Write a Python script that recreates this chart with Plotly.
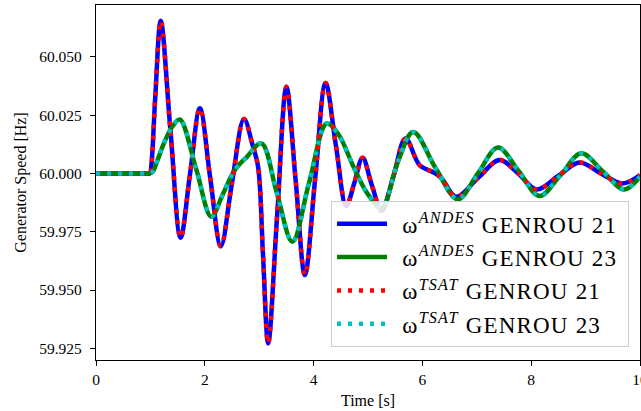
import plotly.graph_objects as go

# ---- data ----
t_andes_21 = [0.0, 0.5, 0.9, 0.99, 1.02, 1.09, 1.19, 1.37, 1.555, 1.73, 1.91, 2.10, 2.295, 2.50, 2.72, 2.88, 2.98,
              3.07, 3.165, 3.33, 3.50, 3.67, 3.84, 4.03, 4.22, 4.41, 4.60, 4.75, 4.90, 5.07, 5.25,
              5.47, 5.69, 5.95, 6.20, 6.35, 6.62, 7.02, 7.42, 7.76, 8.10, 8.50, 8.89, 9.28, 9.68, 10.0]
w_andes_21 = [60.0, 60.0, 60.0, 60.0, 60.004, 60.033, 60.0654, 60.018, 59.9724, 60.000, 60.0279, 59.998, 59.9688, 59.996,
              60.0233, 60.012, 60.0028, 59.965, 59.9271, 59.982, 60.0371, 59.997, 59.9564, 59.998, 60.0388,
              60.012, 59.986, 59.996, 60.0067, 59.995, 59.984, 59.999, 60.015, 60.0035, 60.0005, 59.998,
              59.990, 59.998, 60.0057, 60.000, 59.9931, 59.999, 60.0047, 60.000, 59.9957, 59.9993]

t_andes_23 = [0.0, 0.5, 0.9, 0.99, 1.05, 1.12, 1.25, 1.40, 1.54, 1.84, 2.12, 2.33, 2.55, 2.77, 3.04, 3.32, 3.61,
              3.92, 4.24, 4.45, 4.75, 5.00, 5.25, 5.55, 5.83, 6.25, 6.65, 7.02, 7.39, 7.77, 8.15,
              8.53, 8.92, 9.31, 9.71, 10.0]
w_andes_23 = [60.0, 60.0, 60.0, 60.0, 60.001, 60.005, 60.013, 60.020, 60.0231, 60.002, 59.9814, 59.991, 60.0014, 60.007,
              60.0129, 59.992, 59.9707, 59.9963, 60.0214, 60.017, 60.002, 59.991, 59.9852, 60.005, 60.0178,
              60.002, 59.9889, 60.000, 60.0111, 60.001, 59.9903, 59.999, 60.0086, 60.001, 59.9931, 59.9986]

t_tsat_21 = list(t_andes_21)
w_tsat_21 = list(w_andes_21)
t_tsat_23 = list(t_andes_23)
w_tsat_23 = list(w_andes_23)

x_ticks = [0, 2, 4, 6, 8, 10]
y_ticks = [59.925, 59.950, 59.975, 60.000, 60.025, 60.050]

label_texts = ["ω<sup><i>ANDES</i></sup> GENROU 21", "ω<sup><i>ANDES</i></sup> GENROU 23",
               "ω<sup><i>TSAT</i></sup> GENROU 21", "ω<sup><i>TSAT</i></sup> GENROU 23"]
names = ['&nbsp;\u2009<span style="letter-spacing:1.2px">' + s + '</span>&nbsp;' for s in label_texts]

FONT = "Liberation Serif"

fig = go.Figure()
series = [
    (t_andes_21, w_andes_21, "#0000ff", "solid"),
    (t_andes_23, w_andes_23, "#008000", "solid"),
    (t_tsat_21, w_tsat_21, "#ff0000", "4px,7px"),
    (t_tsat_23, w_tsat_23, "#00bfbf", "4px,7px"),
]
for i, (tx, wy, col, dash) in enumerate(series):
    fig.add_trace(go.Scatter(
        x=tx, y=wy, mode="lines", name=names[i], legendgroup=str(i),
        line=dict(color=col, width=4.5, dash=dash, shape="spline", smoothing=1.0),
    ))

fig.update_layout(
    width=641, height=411,
    margin=dict(l=96, r=1, t=5, b=51),
    paper_bgcolor="white", plot_bgcolor="white",
    font=dict(family=FONT, size=15.5, color="black"),
    showlegend=True,
    legend=dict(
        x=0.9798, y=0.036, xanchor="right", yanchor="bottom",
        bgcolor="rgba(255,255,255,0.85)", bordercolor="#cccccc", borderwidth=1,
        font=dict(family=FONT, size=23, color="black"),
        tracegroupgap=0.5, itemwidth=50,
    ),
)
axis_common = dict(
    showgrid=False, zeroline=False, showline=True, linecolor="black", linewidth=1.2,
    mirror=True, ticks="outside", ticklen=5, tickwidth=1, tickcolor="black",
    tickfont=dict(family=FONT, size=15.5, color="black"), automargin=False,
)
fig.update_xaxes(
    range=[0, 10], tickvals=x_ticks, ticktext=[str(v) for v in x_ticks],
    ticklabeloverflow="allow",
    title=dict(text="Time [s]", font=dict(family=FONT, size=16, color="black"), standoff=8),
    **axis_common,
)
fig.update_yaxes(
    range=[59.920, 60.0722], tickvals=y_ticks, ticktext=[f"{v:.3f}" for v in y_ticks],
    ticklabelstandoff=5,
    title=dict(text="Generator Speed [Hz]", font=dict(family=FONT, size=16, color="black"), standoff=8),
    **axis_common,
)

fig.write_html("out.html", config={"displayModeBar": False},
               post_script="document.body.style.margin='0px';document.body.style.overflow='hidden';")
